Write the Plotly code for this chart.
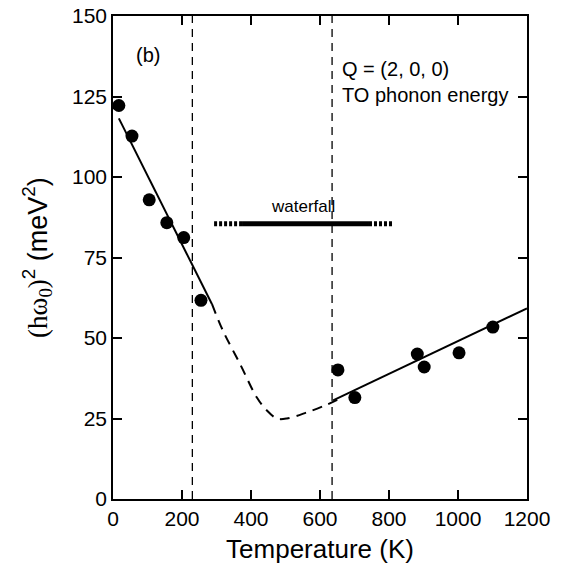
import plotly.graph_objects as go

# Measured data points
temp_K = [17, 55, 105, 156, 205, 255, 652, 701, 882, 902, 1003, 1101]
omega2 = [122.2, 112.7, 92.9, 85.8, 81.2, 61.7, 40.1, 31.5, 45.0, 41.0, 45.4, 53.4]

# Low-temperature solid fit
low_fit_T = [17, 287]
low_fit_E = [118.2, 60.5]

# Dashed guide curve
guide_T = [287, 319, 368, 417, 446, 475, 504, 562, 620, 658]
guide_E = [60.5, 52.2, 42.0, 31.5, 27.5, 25.0, 25.0, 26.9, 29.3, 31.2]

# High-temperature solid fit
high_fit_T = [638, 1200]
high_fit_E = [30.6, 59.2]

# Vertical transition lines
vlines_T = [230, 635]

# Waterfall bar
wf_dot_left = [293, 374]
wf_solid = [374, 742]
wf_dot_right = [742, 812]
wf_E = 85.5

FONT = "Liberation Sans, Arial, Helvetica, sans-serif"

fig = go.Figure()

for t in vlines_T:
    fig.add_trace(go.Scatter(x=[t, t], y=[0, 150], mode="lines",
                             line=dict(color="black", width=1.3, dash="8px,6px"),
                             showlegend=False, hoverinfo="skip"))

fig.add_trace(go.Scatter(x=low_fit_T, y=low_fit_E, mode="lines",
                         line=dict(color="black", width=2), showlegend=False))
fig.add_trace(go.Scatter(x=guide_T, y=guide_E, mode="lines", line_shape="spline",
                         line=dict(color="black", width=2, dash="10px,7px"), showlegend=False))
fig.add_trace(go.Scatter(x=high_fit_T, y=high_fit_E, mode="lines",
                         line=dict(color="black", width=2), showlegend=False))

fig.add_trace(go.Scatter(x=wf_dot_left, y=[wf_E, wf_E], mode="lines",
                         line=dict(color="black", width=5, dash="3px,2px"), showlegend=False))
fig.add_trace(go.Scatter(x=wf_solid, y=[wf_E, wf_E], mode="lines",
                         line=dict(color="black", width=5), showlegend=False))
fig.add_trace(go.Scatter(x=wf_dot_right, y=[wf_E, wf_E], mode="lines",
                         line=dict(color="black", width=5, dash="3px,2px"), showlegend=False))

fig.add_trace(go.Scatter(x=temp_K, y=omega2, mode="markers",
                         marker=dict(color="black", size=13), showlegend=False))

fig.add_annotation(x=100, y=138, text="(b)", showarrow=False, xanchor="center",
                   font=dict(size=20, color="black", family=FONT))
fig.add_annotation(x=658, y=133.5, text="Q = (2, 0, 0)", showarrow=False, xanchor="left",
                   font=dict(size=20, color="black", family=FONT))
fig.add_annotation(x=658, y=125.5, text="TO phonon energy", showarrow=False, xanchor="left",
                   font=dict(size=20, color="black", family=FONT))
fig.add_annotation(x=551, y=90.8, text="waterfall", showarrow=False, xanchor="center",
                   font=dict(size=17, color="black", family=FONT))

axis_common = dict(showline=True, linecolor="black", linewidth=1.5, mirror="ticks",
                   ticks="inside", ticklen=9, tickwidth=1.5, tickcolor="black",
                   showgrid=False, zeroline=False, automargin=False,
                   ticklabeloverflow="allow",
                   tickfont=dict(size=21, color="black", family=FONT))

fig.update_xaxes(range=[0, 1200], tickmode="array",
                 tickvals=[0, 200, 400, 600, 800, 1000, 1200],
                 ticktext=["0", "200", "400", "600", "800", "1000", "1200"],
                 title=dict(text="Temperature (K)", font=dict(size=26, color="black", family=FONT),
                            standoff=11),
                 **axis_common)
fig.update_yaxes(range=[0, 150], tickmode="array",
                 tickvals=[0, 25, 50, 75, 100, 125, 150],
                 ticktext=["0", "25", "50", "75", "100", "125", "150"],
                 title=dict(text="<span style='font-family:Liberation Serif, Times New Roman, serif'>(hω<sub>0</sub>)</span><sup>2</sup> (meV<sup>2</sup>)",
                            font=dict(size=27, color="black", family=FONT), standoff=17),
                 **axis_common)

fig.update_layout(width=554, height=560, margin=dict(l=105, r=35, t=8, b=69, autoexpand=False),
                  plot_bgcolor="white", paper_bgcolor="white")

fig.write_html("out.html")
